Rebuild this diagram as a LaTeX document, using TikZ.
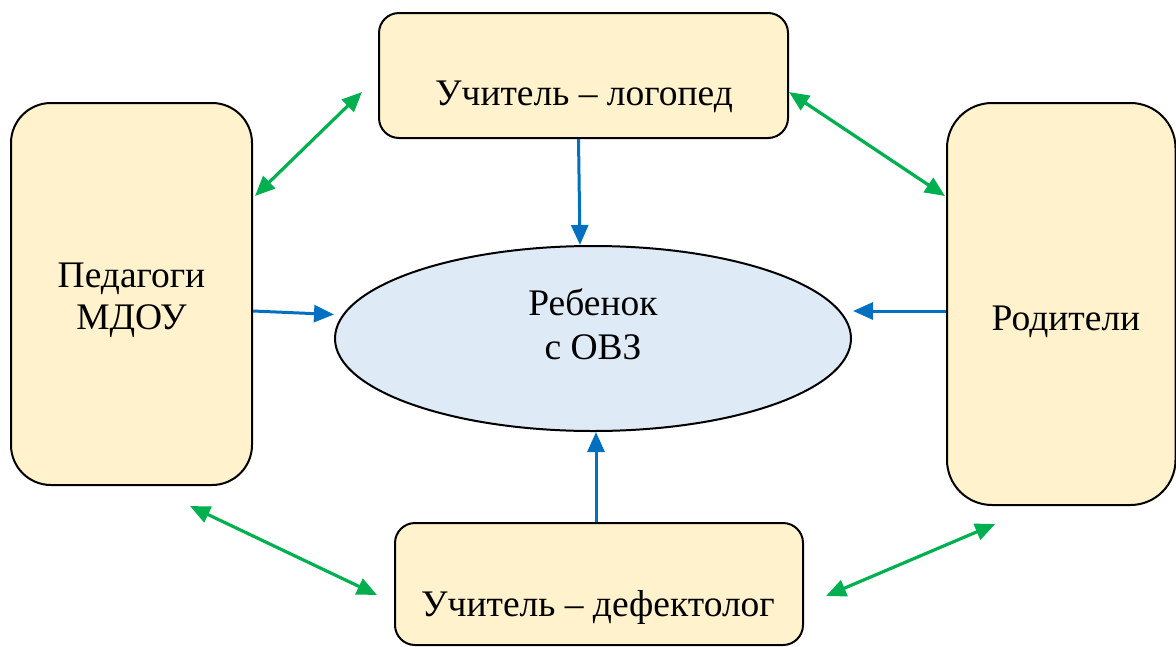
\documentclass[tikz,border=0pt]{standalone}
\usepackage{fontspec}
\setmainfont{Liberation Serif}
\usepackage{tikz}
\usetikzlibrary{arrows.meta,shapes.geometric}
\definecolor{boxfill}{HTML}{FFF2CC}
\definecolor{ovalfill}{HTML}{DEEBF7}
\definecolor{linkblue}{HTML}{0070C0}
\definecolor{pairgreen}{HTML}{00B050}

\begin{document}
\begin{tikzpicture}[x=1pt,y=-1pt,>={Triangle[length=20pt,width=17pt]},
  box/.style={draw,line width=2pt,fill=boxfill,inner sep=0pt},
  oval/.style={draw,ellipse,line width=2pt,fill=ovalfill,inner sep=0pt,
    minimum width=516pt,minimum height=185pt},
  word/.style={anchor=base,inner sep=0pt,font=\fontsize{37.5}{44}\selectfont},
  link/.style={->,line width=3pt,draw=linkblue,fill=linkblue},
  pair/.style={<->,line width=3.2pt,draw=pairgreen,fill=pairgreen}]
                \useasboundingbox (0,0) rectangle (1176,646);
                % The boxes
                \node[box,rounded corners=20pt,minimum width=409pt,minimum height=125pt] (logo) at (583.5,75.5) {};
                \node[box,rounded corners=40pt,minimum width=241pt,minimum height=382pt] (ped) at (131.5,294) {};
                \node[box,rounded corners=45pt,minimum width=228.5pt,minimum height=402pt] (rod) at (1061.25,304) {};
                \node[box,rounded corners=20pt,minimum width=408pt,minimum height=122pt] (defe) at (599,584) {};
                \node[oval] (ovz) at (593,338.5) {};
                % The texts
                \node[word] (logoT) at (584,105) {Учитель – логопед};
                \node[word] (pedA) at (131.5,287) {Педагоги};
                \node[word] (pedB) at (131.5,329) {МДОУ};
                \node[word] (ovzA) at (593,315) {Ребенок};
                \node[word] (ovzB) at (593,359) {с ОВЗ};
                \node[word] (rodT) at (1066,330) {Родители};
                \node[word] (defeT) at (598,616) {Учитель – дефектолог};
                % The blue arrows
                \draw[link] ([xshift=-5pt]logo.south) -- ([xshift=-13pt]ovz.north);
                \draw[link] ([yshift=-17pt]ped.east) -- ([yshift=24pt]ovz.west);
                \draw[link] ([yshift=-7pt]rod.west) -- ([xshift=1pt,yshift=27.5pt]ovz.east);
                \draw[link] ([xshift=-3pt]defe.north) -- ([xshift=3pt]ovz.south);
                % The green arrows
                \draw[pair] ([xshift=-16pt,yshift=-16.5pt]logo.west) -- ([xshift=2pt,yshift=-94pt]ped.north east);
                \draw[pair] ([yshift=-16.5pt]logo.east) -- ([xshift=-1pt,yshift=-94pt]rod.north west);
                \draw[pair] ([xshift=58.5pt,yshift=-20pt]ped.south) -- ([xshift=-17pt,yshift=-11pt]defe.west);
                \draw[pair] ([xshift=-66pt,yshift=-18pt]rod.south) -- ([xshift=22pt,yshift=-12pt]defe.east);
\end{tikzpicture}
\end{document}
